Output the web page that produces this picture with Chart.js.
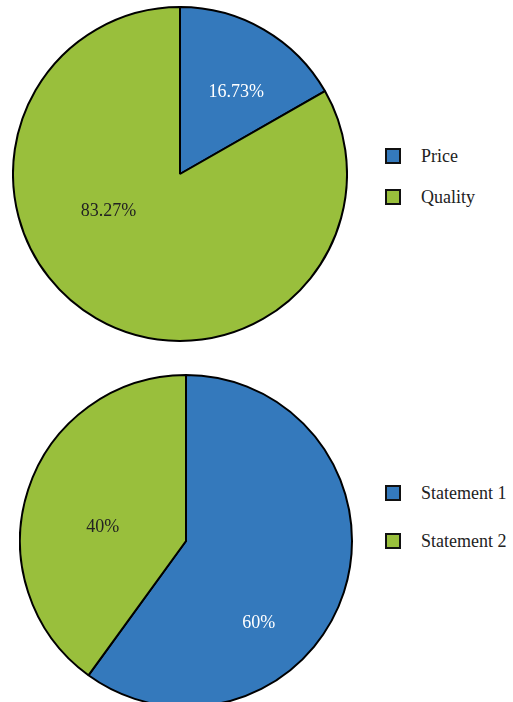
<!DOCTYPE html>
<html>
<head>
<meta charset="utf-8">
<script src="https://cdn.jsdelivr.net/npm/chart.js@4/dist/chart.umd.min.js"></script>
<style>
    html, body { margin: 0; padding: 0; background: #fff; overflow: hidden; }
    body { width: 513px; height: 702px; position: relative; font-family: "Times New Roman", "Liberation Serif", Tinos, serif; }
    .pie-box { position: absolute; }
    .legend { position: absolute; left: 385px; }
    .legend-item { position: absolute; left: 0; height: 16px; white-space: nowrap; }
    .legend-item .swatch { position: absolute; left: 0; top: 0; width: 16px; height: 16px; box-sizing: border-box; border: 2px solid #111; }
    .legend-item .text { position: absolute; left: 36px; top: -3px; font-size: 18px; line-height: 22px; color: #222; }
</style>
</head>
<body>
    <div class="pie-box" style="left:12px; top:6px; width:336px; height:336px;"><canvas id="topPie"></canvas></div>
    <div class="pie-box" style="left:19px; top:374px; width:334px; height:334px;"><canvas id="bottomPie"></canvas></div>
    <div class="legend" id="topLegend" style="top:148px;"></div>
    <div class="legend" id="bottomLegend" style="top:485px;"></div>

<script>
// Valores dos dois gráficos
const topLabels = ['Price', 'Quality'];
const topValues = [16.73, 83.27];
const bottomLabels = ['Statement 1', 'Statement 2'];
const bottomValues = [60, 40];
const sliceColors = ['#3479bc', '#99bf3c'];
const textColors = ['#ffffff', '#222222'];

// Escreve a percentagem dentro de cada fatia
const sliceLabels = {
    id: 'sliceLabels',
    afterDatasetsDraw(chart, args, opts) {
        const { ctx } = chart;
        const meta = chart.getDatasetMeta(0);
        const values = chart.data.datasets[0].data;
        ctx.save();
        ctx.font = '18px "Times New Roman", "Liberation Serif", Tinos, serif';
        ctx.textAlign = 'center';
        ctx.textBaseline = 'middle';
        meta.data.forEach((arc, i) => {
            const p = arc.getProps(['x', 'y', 'startAngle', 'endAngle', 'outerRadius'], true);
            const [shift, frac] = opts.place[i];
            const a = (p.startAngle + p.endAngle) / 2 + shift * Math.PI / 180;
            const r = p.outerRadius * frac;
            ctx.fillStyle = textColors[i];
            ctx.fillText(values[i] + '%', p.x + Math.cos(a) * r, p.y + Math.sin(a) * r + 1);
        });
        ctx.restore();
    }
};

const makePie = (id, labels, values, place) => new Chart(document.getElementById(id), {
    type: 'pie',
    data: {
        labels: labels,
        datasets: [{
            data: values,
            backgroundColor: sliceColors,
            borderColor: '#000',
            borderWidth: 2
        }]
    },
    options: {
        responsive: true,
        maintainAspectRatio: false,
        animation: false,
        events: [],
        layout: { padding: 0 },
        plugins: {
            legend: { display: false },
            tooltip: { enabled: false },
            sliceLabels: { place: place }
        }
    },
    plugins: [sliceLabels]
});

makePie('topPie', topLabels, topValues, [[4, 0.6], [33, 0.48]]);
makePie('bottomPie', bottomLabels, bottomValues, [[30, 0.655], [-8, 0.51]]);

// Legenda em HTML ao lado de cada gráfico
const buildLegend = (el, labels, gap) => {
    labels.forEach((label, i) => {
        const item = document.createElement('div');
        item.className = 'legend-item';
        item.style.top = (i * gap) + 'px';
        item.innerHTML = `<span class="swatch" style="background:${sliceColors[i]}"></span><span class="text">${label}</span>`;
        el.appendChild(item);
    });
};
buildLegend(document.getElementById('topLegend'), topLabels, 41);
buildLegend(document.getElementById('bottomLegend'), bottomLabels, 47.5);
</script>
</body>
</html>
